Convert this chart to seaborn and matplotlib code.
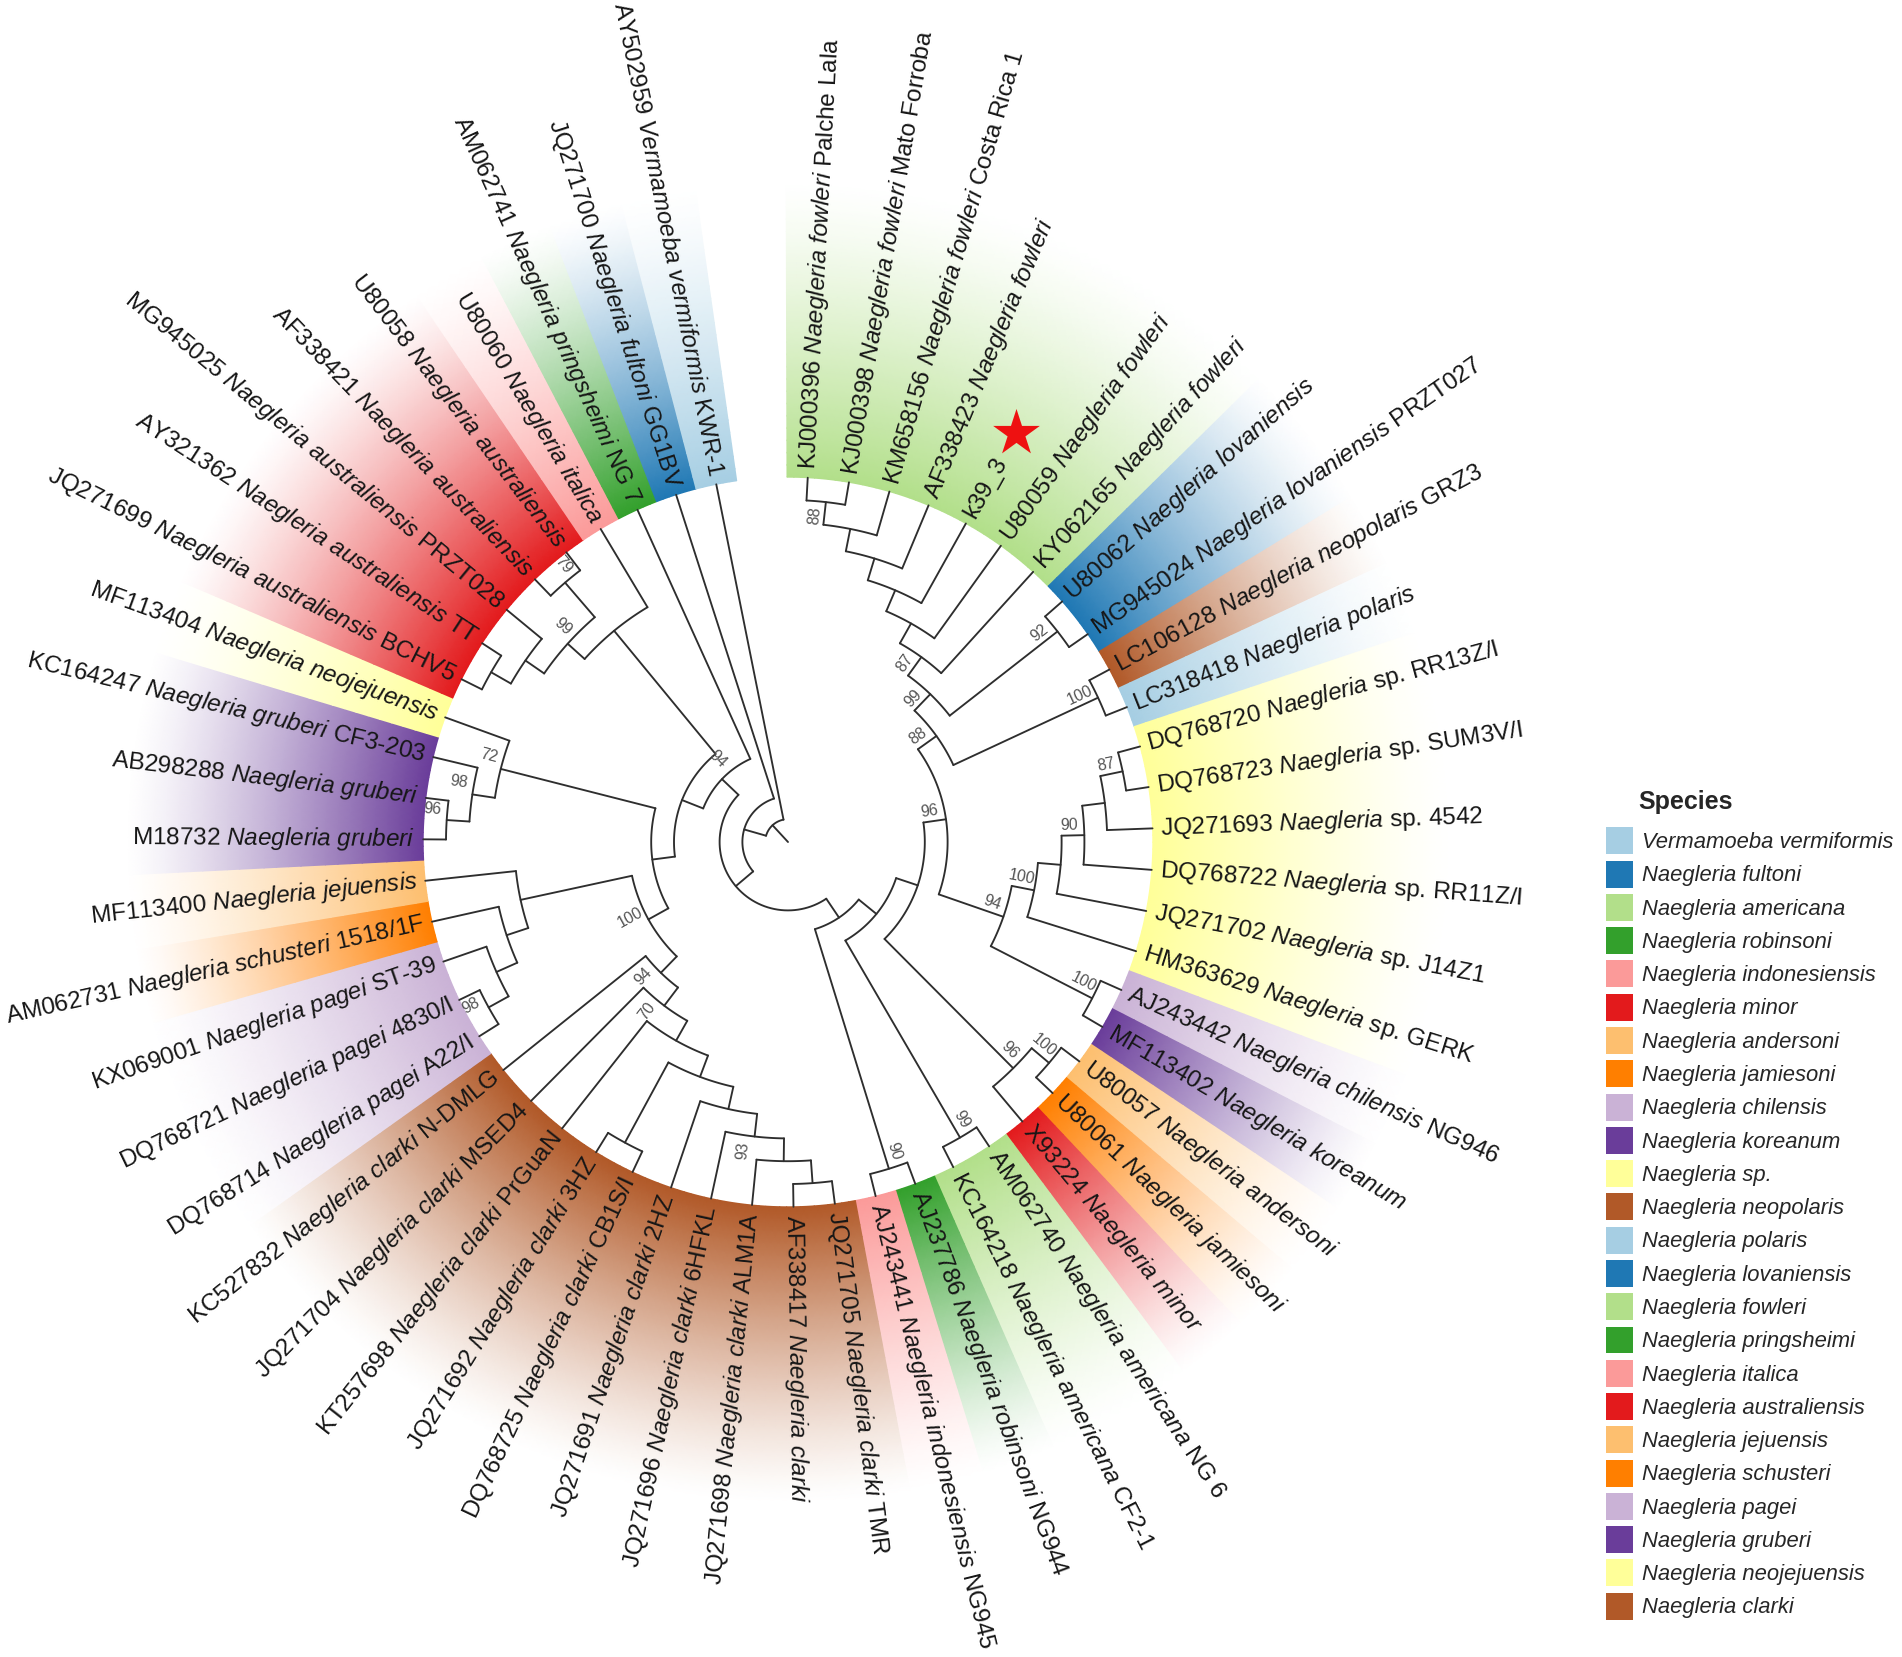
import matplotlib
matplotlib.use("Agg")
import matplotlib.pyplot as plt
from matplotlib.colors import LinearSegmentedColormap
from matplotlib.patches import Patch
import numpy as np
import seaborn as sns

# legend order, colours cycle through the Paired palette
species_names = [
    "Vermamoeba vermiformis", "Naegleria fultoni", "Naegleria americana", "Naegleria robinsoni",
    "Naegleria indonesiensis", "Naegleria minor", "Naegleria andersoni", "Naegleria jamiesoni",
    "Naegleria chilensis", "Naegleria koreanum", "Naegleria sp.", "Naegleria neopolaris",
    "Naegleria polaris", "Naegleria lovaniensis", "Naegleria fowleri", "Naegleria pringsheimi",
    "Naegleria italica", "Naegleria australiensis", "Naegleria jejuensis", "Naegleria schusteri",
    "Naegleria pagei", "Naegleria gruberi", "Naegleria neojejuensis", "Naegleria clarki",
]

# tips, clockwise from the top of the fan
tip_ids = [
    "KJ000396", "KJ000398", "KM658156", "AF338423", "k39_3", "U80059", "KY062165", "U80062", "MG945024",
    "LC106128", "LC318418", "DQ768720", "DQ768723", "JQ271693", "DQ768722", "JQ271702", "HM363629",
    "AJ243442", "MF113402", "U80057", "U80061", "X93224", "AM062740", "KC164218", "AJ237786", "AJ243441",
    "JQ271705", "AF338417", "JQ271698", "JQ271696", "JQ271691", "DQ768725", "JQ271692", "KT257698",
    "JQ271704", "KC527832", "DQ768714", "DQ768721", "KX069001", "AM062731", "MF113400", "M18732",
    "AB298288", "KC164247", "MF113404", "JQ271699", "AY321362", "MG945025", "AF338421", "U80058",
    "U80060", "AM062741", "JQ271700", "AY502959",
]
tip_species = (
    ["fowleri"] * 7 + ["lovaniensis"] * 2 + ["neopolaris", "polaris"] + ["sp."] * 6
    + ["chilensis", "koreanum", "andersoni", "jamiesoni", "minor", "americana", "americana", "robinsoni", "indonesiensis"]
    + ["clarki"] * 10 + ["pagei"] * 3 + ["schusteri", "jejuensis"] + ["gruberi"] * 3 + ["neojejuensis"]
    + ["australiensis"] * 5 + ["italica", "pringsheimi", "fultoni", "vermiformis"]
)
tip_strain = [
    "Palche Lala", "Mato Forroba", "Costa Rica 1", "", "", "", "", "", "PRZT027",
    "GRZ3", "", "RR13Z/I", "SUM3V/I", "4542", "RR11Z/I", "J14Z1", "GERK",
    "NG946", "", "", "", "", "NG 6", "CF2-1", "NG944", "NG945",
    "TMR", "", "ALM1A", "6HFKL", "2HZ", "CB1S/I", "3HZ", "PrGuaN",
    "MSED4", "N-DMLG", "A22/I", "4830/I", "ST-39", "1518/1F", "", "",
    "", "CF3-203", "", "BCHV5", "TT", "PRZT028", "", "",
    "", "NG 7", "GG1BV", "KWR-1",
]

# internal nodes: children (int = tip number, str = node). It's a cladogram, so no branch lengths
node_names = [
    "root", "n1", "n2", "n3", "n4", "n5", "n24", "n25", "n26", "n27", "n6", "n7", "n22", "n23", "n8", "n9",
    "n19", "n20", "n21", "n10", "n11", "n12", "n13", "n14", "n15", "n16", "n17", "n18", "n30", "n50", "n31",
    "n49", "n32", "n47", "n48", "n33", "n35", "n46", "n36", "n37", "n38", "n39", "n40", "n34", "n45", "n41",
    "n44", "n42", "n43", "nd", "nc", "nb", "na",
]
node_kids = [
    (54, "n1"), (53, "n2"), ("n3", "n30"), (52, "n4"), ("n5", "n6"), (51, "n24"), ("n25", "n26"), (50, 49),
    (48, "n27"), (47, 46), ("n7", "n8"), (45, "n22"), (44, "n23"), (43, 42), ("n9", "n10"), (41, "n19"),
    (40, "n20"), (39, "n21"), (38, 37), (36, "n11"), (35, "n12"), (34, "n13"), ("n14", "n15"), (33, 32),
    (31, "n16"), (30, "n17"), (29, "n18"), (28, 27), ("n31", "n50"), (26, 25), ("n32", "n49"),
    (24, 23), ("n33", "n47"), (22, "n48"), (21, 20), ("n34", "n35"), ("n36", "n46"), (19, 18), ("n37", 17),
    ("n38", 16), ("n39", 15), ("n40", 14), (13, 12), ("n41", "n45"), (11, 10), ("n42", "n44"),
    (9, 8), ("n43", 7), ("nd", 6), ("nc", 5), ("nb", 4), ("na", 3), (2, 1),
]

support_nodes = ["na", "n42", "n41", "n34", "n33", "n44", "n45", "n40", "n38", "n36", "n35", "n46", "n47", "n48",
                 "n49", "n50", "n16", "n11", "n10", "n8", "n21", "n23", "n22", "n7", "n25", "n24"]
support_values = [88, 87, 99, 88, 96, 92, 100, 87, 90, 100, 94, 100, 96, 100,
                  99, 90, 93, 70, 94, 100, 98, 96, 98, 72, 79, 99]

# layout of the fan
ROOT_X, ROOT_Y = 788, 842
START_ANGLE, STEP_ANGLE = 3.1, 6.52
LEVEL = 22.8
TIP_LEVEL = 16
FADE = 295

sns.set_theme(style="white")
plt.rcParams["font.family"] = ["Liberation Sans", "DejaVu Sans"]
plt.rcParams["mathtext.fontset"] = "custom"
plt.rcParams["mathtext.it"] = "Liberation Sans:italic"
plt.rcParams["mathtext.rm"] = "Liberation Sans"
plt.rcParams["mathtext.default"] = "regular"

palette = sns.color_palette("Paired", 12)
species_colors = {name: palette[i % 12] for i, name in enumerate(species_names)}


def full_species(short):
    for name in species_names:
        if name.endswith(" " + short):
            return name
    return None


def tip_angle(index):
    return np.radians(START_ANGLE + STEP_ANGLE * (np.asarray(index, dtype=float) - 1))


def to_xy(index, r):
    a = tip_angle(index)
    return ROOT_X + r * np.sin(a), ROOT_Y - r * np.cos(a)


kids_of = dict(zip(node_names, node_kids))


def position(item):
    # a node sits half way between its two children
    if isinstance(item, int):
        return float(item)
    a, b = kids_of[item]
    return (position(a) + position(b)) / 2


def level(item):
    # tips line up, a node is one level inside its closest child
    if isinstance(item, int):
        return TIP_LEVEL
    return min(level(k) for k in kids_of[item]) - 1


def radius(item):
    return LEVEL * level(item)


TIP_RADIUS = LEVEL * TIP_LEVEL

fig = plt.figure(figsize=(19.02, 16.57), dpi=100, facecolor="white")
ax = fig.add_axes([0, 0, 1, 1])
ax.set_xlim(0, 1902)
ax.set_ylim(1657, 0)
ax.axis("off")

# coloured wedges, one run of equal species at a time
start = 0
while start < len(tip_ids):
    stop = start
    while stop + 1 < len(tip_ids) and tip_species[stop + 1] == tip_species[start]:
        stop += 1
    idx = np.linspace(start + 0.5, stop + 1.5, 6 * (stop - start + 1) + 1)
    t = np.linspace(0, 1, 25)
    rr = np.repeat((TIP_RADIUS + t * FADE)[:, None], len(idx), axis=1)
    X, Y = to_xy(idx[None, :], rr)
    color = np.array(species_colors[full_species(tip_species[start])])
    ramp = [tuple(1 - w * (1 - color)) for w in (1 - np.linspace(0, 1, 20)) ** 1.25]
    cmap = LinearSegmentedColormap.from_list("fade", ramp, N=512)
    ax.pcolormesh(X, Y, np.repeat(t[:, None], len(idx), axis=1), shading="gouraud", cmap=cmap,
                  vmin=0, vmax=1, zorder=1)
    start = stop + 1

# branches
line_style = dict(color="#2e2e2e", lw=1.35, solid_capstyle="round", zorder=3)
for name in node_names:
    a, b = kids_of[name]
    r = radius(name)
    arc = np.linspace(position(a), position(b), 60)
    ax.plot(*to_xy(arc, r), **line_style)
    for kid in (a, b):
        x, y = to_xy(position(kid), np.array([r, radius(kid)]))
        ax.plot(x, y, **line_style)
x, y = to_xy(position("root"), np.array([0, radius("root")]))
ax.plot(x, y, **line_style)

# tip labels
for i, (tip, short, strain) in enumerate(zip(tip_ids, tip_species, tip_strain)):
    if tip == "k39_3":
        label = tip
    else:
        full = full_species(short)
        italic = "Naegleria" if short == "sp." else full
        label = tip + " $\\mathit{" + italic.replace(" ", "\\ ") + "}$"
        if short == "sp.":
            label += " sp."
        if strain:
            label += " " + strain
    angle = START_ANGLE + STEP_ANGLE * i
    right_side = angle < 180
    rotation = 90 - angle if right_side else 270 - angle
    x, y = to_xy(i + 1, TIP_RADIUS + 8)
    ax.text(x, y, label, rotation=rotation, rotation_mode="anchor", fontsize=17.5, color="#161616",
            ha="left" if right_side else "right", va="center", zorder=4)


def support_text(value, index, r):
    angle = START_ANGLE + STEP_ANGLE * (index - 1)
    rotation = 90 - angle if angle < 180 else 270 - angle
    rad = np.radians(rotation)
    x, y = to_xy(index, r)
    ax.text(x - 10 * np.sin(rad), y - 10 * np.cos(rad), str(value), rotation=rotation, rotation_mode="anchor",
            fontsize=11.5, color="#555555", ha="center", va="center", zorder=5)


# bootstrap values
for name, value in zip(support_nodes, support_values):
    index = position(name)
    angle = START_ANGLE + STEP_ANGLE * (index - 1)
    offset = -15 if angle < 180 else 15
    support_text(value, index, radius(name) + offset)
support_text(94, position("n5") - 0.9, 108)

# star on the sample from this study
star_index = tip_ids.index("k39_3") + 1
star_x, star_y = to_xy(star_index, 468)
ax.scatter([star_x], [star_y], marker="*", s=1250, color="#ee1111", linewidths=0, zorder=5)

handles = [Patch(facecolor=species_colors[name], edgecolor="none", label=name) for name in species_names]
legend = ax.legend(
    handles=handles, loc="upper left", bbox_to_anchor=(1606, 797), bbox_transform=ax.transData,
    frameon=False, prop={"style": "italic", "size": 15.8}, title="Species",
    title_fontproperties={"weight": "bold", "size": 18}, alignment="left",
    handlelength=1.23, handleheight=1.51, handletextpad=0.42, labelspacing=0.29, borderpad=0, borderaxespad=0,
)
legend.get_title().set_position((32, 7))

fig.savefig("out.png", dpi=100, facecolor="white")
